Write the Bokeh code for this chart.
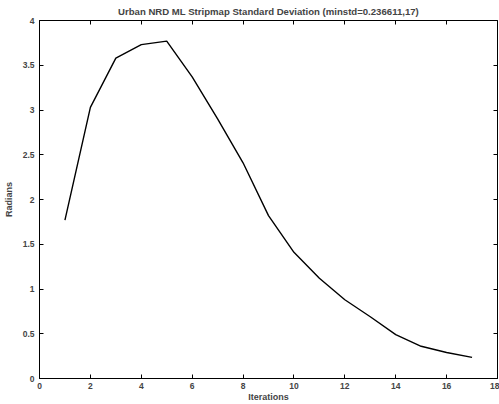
from bokeh.plotting import figure
from bokeh.models import LinearAxis, FixedTicker, Range1d
from bokeh.embed import file_html
from bokeh.resources import INLINE

iterations = [1, 2, 3, 4, 5, 6, 7, 8, 9, 10, 11, 12, 13, 14, 15, 16, 17]
std_radians = [1.77, 3.03, 3.58, 3.73, 3.77, 3.37, 2.90, 2.41, 1.82, 1.41, 1.12, 0.88, 0.69, 0.49, 0.36, 0.29, 0.2366]
x_ticks = [0, 2, 4, 6, 8, 10, 12, 14, 16, 18]
y_ticks = [0, 0.5, 1, 1.5, 2, 2.5, 3, 3.5, 4]

FONT = "Liberation Sans"

p = figure(width=499, height=404, output_backend="svg", toolbar_location=None,
           x_range=Range1d(0, 18), y_range=Range1d(0, 4),
           min_border_left=39, min_border_right=2, min_border_top=20, min_border_bottom=25)
p.title.text = "Urban NRD ML Stripmap Standard Deviation (minstd=0.236611,17)"
p.title.align = "center"
p.title.text_font = FONT
p.title.text_font_size = "9.6px"
p.title.text_font_style = "bold"
p.title.standoff = 7
p.title.offset = 0

p.line(iterations, std_radians, line_color="black", line_width=1.4)

p.grid.visible = False
p.outline_line_color = "black"
p.outline_line_width = 1
p.background_fill_color = "white"
p.border_fill_color = "white"

for ax in [p.xaxis[0], p.yaxis[0]]:
    ax.major_tick_in = 4
    ax.major_tick_out = 0
    ax.minor_tick_line_color = None
    ax.axis_line_color = "black"
    ax.major_label_text_font = FONT
    ax.major_label_text_font_size = "8.5px"
    ax.major_label_text_font_style = "bold"
    ax.axis_label_text_font = FONT
    ax.axis_label_text_font_size = "9px"
    ax.axis_label_text_font_style = "bold"

p.xaxis[0].ticker = FixedTicker(ticks=x_ticks)
p.yaxis[0].ticker = FixedTicker(ticks=y_ticks)
p.yaxis[0].major_label_overrides = {0: "0", 0.5: "0.5", 1: "1", 1.5: "1.5", 2: "2", 2.5: "2.5", 3: "3", 3.5: "3.5", 4: "4"}
p.xaxis[0].axis_label = "Iterations"
p.yaxis[0].axis_label = "Radians"
p.xaxis[0].major_label_standoff = 4
p.yaxis[0].major_label_standoff = 5
p.xaxis[0].axis_label_standoff = 0
p.yaxis[0].axis_label_standoff = 6

top = LinearAxis(ticker=FixedTicker(ticks=x_ticks), major_tick_in=4, major_tick_out=0,
                 minor_tick_line_color=None, major_label_overrides={t: "" for t in x_ticks},
                 axis_line_color=None, major_label_standoff=0)
right = LinearAxis(ticker=FixedTicker(ticks=y_ticks), major_tick_in=4, major_tick_out=0,
                   minor_tick_line_color=None, major_label_overrides={t: "" for t in y_ticks},
                   axis_line_color=None, major_label_standoff=0)
p.add_layout(top, "above")
p.add_layout(right, "right")

open("out.html", "w").write(file_html(p, INLINE))
